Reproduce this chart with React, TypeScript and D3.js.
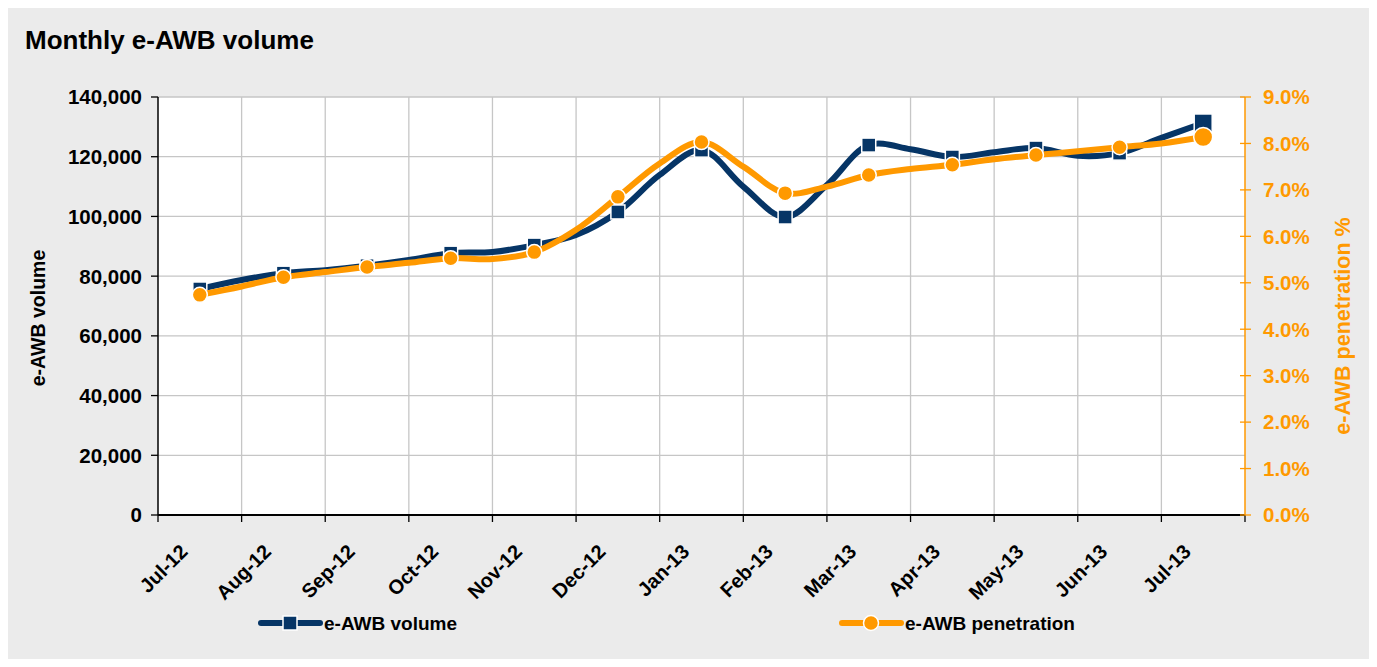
import React from "react";
import * as d3 from "d3";

const months = ["Jul-12","Aug-12","Sep-12","Oct-12","Nov-12","Dec-12","Jan-13","Feb-13","Mar-13","Apr-13","May-13","Jun-13","Jul-13"];
// monthly values (marked points)
const volume = [75700, 81000, 83500, 87700, 90400, 101500, 122200, 99800, 123900, 119900, 122900, 121200, 131300];
// mid-month readings between marked points (unmarked)
const volumeMid = [78700, 82000, 85400, 88100, 93800, 113900, 110000, 110500, 122500, 121500, 120300, 126300];
const penetration = [4.74, 5.12, 5.34, 5.53, 5.66, 6.85, 8.03, 6.93, 7.32, 7.54, 7.75, 7.92, 8.14];
const penetrationMid = [4.92, 5.23, 5.43, 5.51, 6.14, 7.57, 7.5, 7.07, 7.45, 7.66, 7.83, 8.0];
const leftTicks = [0, 20000, 40000, 60000, 80000, 100000, 120000, 140000];
const rightTicks = [0, 1, 2, 3, 4, 5, 6, 7, 8, 9];

const NAVY = "#063566";
const ORANGE = "#FF9900";
const FONT = "'Liberation Sans', Arial, sans-serif";

export default function App() {
  const W = 1361, H = 651, OFF = 8;
  const L = 158, R = 1245, T = 97, B = 515;
  const pos = d3.scaleLinear().domain([0, months.length]).range([L, R]);
  const yL = d3.scaleLinear().domain([0, 140000]).range([B, T]);
  const yR = d3.scaleLinear().domain([0, 9]).range([B, T]);

  const build = (main: number[], mid: number[]) => {
    const pts: [number, number][] = [];
    main.forEach((v, i) => {
      pts.push([i + 0.5, v]);
      if (i < mid.length) pts.push([i + 1, mid[i]]);
    });
    return pts;
  };
  const volPts = build(volume, volumeMid);
  const penPts = build(penetration, penetrationMid);
  const curve = d3.curveCatmullRom.alpha(0.5);
  const volLine = d3.line<[number, number]>().x(d => pos(d[0])).y(d => yL(d[1])).curve(curve);
  const penLine = d3.line<[number, number]>().x(d => pos(d[0])).y(d => yR(d[1])).curve(curve);
  const fmt = d3.format(",");
  const tickXs = d3.range(0, months.length + 1).map(i => pos(i));
  const last = months.length - 1;

  return (
    <svg width={W} height={H} style={{ display: "block" }} fontFamily={FONT}>
      <g transform={`translate(${-OFF},${-OFF})`}>
        <rect x={OFF} y={OFF} width={W} height={H} fill="#ebebeb" />
        <text x={25} y={49} fontSize={26} fontWeight="bold" fill="#000">Monthly e-AWB volume</text>
        <rect x={L} y={T} width={R - L} height={B - T} fill="#fff" />
        {leftTicks.slice(1).map(t => (
          <line key={"gh" + t} x1={L} x2={R} y1={yL(t)} y2={yL(t)} stroke="#c6c6c6" strokeWidth={1.3} />
        ))}
        {tickXs.slice(1, -1).map((x, i) => (
          <line key={"gv" + i} x1={x} x2={x} y1={T} y2={B} stroke="#c6c6c6" strokeWidth={1.3} />
        ))}
        {/* left axis */}
        <line x1={L} x2={L} y1={T} y2={B} stroke="#000" strokeWidth={1.5} />
        {leftTicks.map(t => (
          <g key={"lt" + t}>
            <line x1={L - 7} x2={L} y1={yL(t)} y2={yL(t)} stroke="#000" strokeWidth={1.3} />
            <text x={L - 16} y={yL(t)} dy="0.36em" textAnchor="end" fontSize={20.5} fontWeight="bold" fill="#000">{fmt(t)}</text>
          </g>
        ))}
        <text transform={`translate(45,${(T + B) / 2 + 12}) rotate(-90)`} textAnchor="middle" fontSize={19.5} fontWeight="bold" fill="#000">e-AWB volume</text>
        {/* bottom axis */}
        <line x1={L} x2={R} y1={B} y2={B} stroke="#000" strokeWidth={2} />
        {tickXs.map((x, i) => (
          <line key={"bt" + i} x1={x} x2={x} y1={B} y2={B + 7} stroke="#000" strokeWidth={1.3} />
        ))}
        {months.map((m, i) => (
          <text key={m} transform={`translate(${pos(i + 0.5) - 11},${553}) rotate(-45)`} textAnchor="end" fontSize={20} fontWeight="bold" fill="#000">{m}</text>
        ))}
        {/* right axis */}
        <line x1={R} x2={R} y1={T} y2={B} stroke={ORANGE} strokeWidth={1.5} />
        {rightTicks.map(t => (
          <g key={"rt" + t}>
            <line x1={R - 5} x2={R + 6} y1={yR(t)} y2={yR(t)} stroke={ORANGE} strokeWidth={1.3} />
            <text x={R + 18} y={yR(t)} dy="0.36em" textAnchor="start" fontSize={20.5} fontWeight="bold" fill={ORANGE}>{t.toFixed(1) + "%"}</text>
          </g>
        ))}
        <text transform={`translate(1350,${(T + B) / 2 + 20}) rotate(-90)`} textAnchor="middle" fontSize={21.5} fontWeight="bold" fill={ORANGE}>e-AWB penetration %</text>
        {/* series */}
        <path d={volLine(volPts) || ""} fill="none" stroke={NAVY} strokeWidth={6} strokeLinejoin="round" />
        {volume.map((v, i) => {
          const s = i === last ? 18 : 14;
          return <rect key={"vm" + i} x={pos(i + 0.5) - s / 2} y={yL(v) - s / 2} width={s} height={s} fill={NAVY} stroke="#fff" strokeWidth={1.5} />;
        })}
        <path d={penLine(penPts) || ""} fill="none" stroke={ORANGE} strokeWidth={6} strokeLinejoin="round" />
        {penetration.map((v, i) => (
          <circle key={"pm" + i} cx={pos(i + 0.5)} cy={yR(v)} r={i === last ? 9.5 : 7.5} fill={ORANGE} stroke="#fff" strokeWidth={1.5} />
        ))}
        {/* legend */}
        <line x1={261} x2={320} y1={623} y2={623} stroke={NAVY} strokeWidth={6} strokeLinecap="round" />
        <rect x={283} y={616} width={14} height={14} fill={NAVY} stroke="#fff" strokeWidth={1.5} />
        <text x={324} y={630} fontSize={19} fontWeight="bold" fill="#000">e-AWB volume</text>
        <line x1={842} x2={901} y1={623} y2={623} stroke={ORANGE} strokeWidth={6} strokeLinecap="round" />
        <circle cx={871} cy={623} r={7.5} fill={ORANGE} stroke="#fff" strokeWidth={1.5} />
        <text x={905} y={630} fontSize={19} fontWeight="bold" fill="#000">e-AWB penetration</text>
      </g>
    </svg>
  );
}
